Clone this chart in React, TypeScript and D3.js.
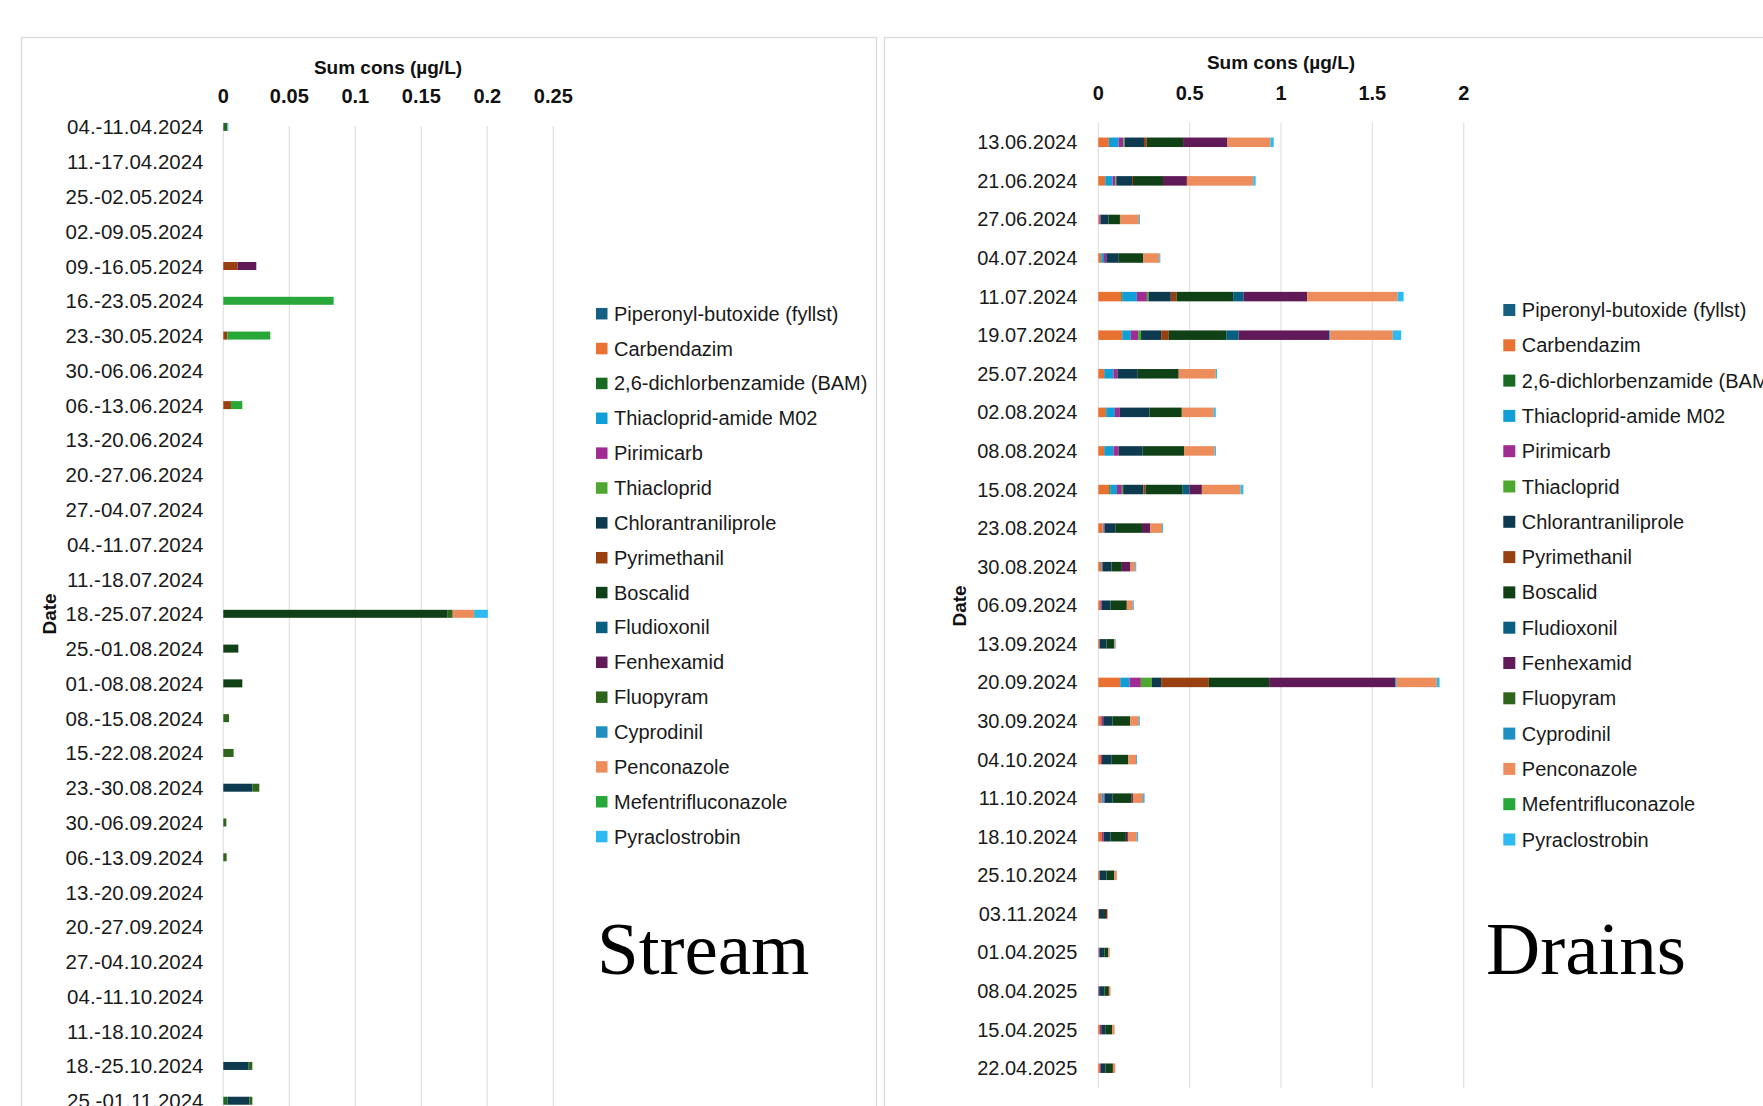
import React from "react";
import * as d3 from "d3";

const COMPOUNDS = [
  "Piperonyl-butoxide (fyllst)",
  "Carbendazim",
  "2,6-dichlorbenzamide (BAM)",
  "Thiacloprid-amide M02",
  "Pirimicarb",
  "Thiacloprid",
  "Chlorantraniliprole",
  "Pyrimethanil",
  "Boscalid",
  "Fludioxonil",
  "Fenhexamid",
  "Fluopyram",
  "Cyprodinil",
  "Penconazole",
  "Mefentrifluconazole",
  "Pyraclostrobin",
];
const COLORS = [
  "#156082", "#E97132", "#196B24", "#0F9ED5", "#A02B93", "#4EA72E",
  "#0D3A4E", "#994011", "#0F4016", "#095F80", "#601A58", "#2F641C",
  "#1F8EC0", "#ED8D5B", "#27A838", "#2DBAF0",
];

// ---------- Stream ----------
const streamDates = [
  "04.-11.04.2024", "11.-17.04.2024", "25.-02.05.2024", "02.-09.05.2024", "09.-16.05.2024",
  "16.-23.05.2024", "23.-30.05.2024", "30.-06.06.2024", "06.-13.06.2024", "13.-20.06.2024",
  "20.-27.06.2024", "27.-04.07.2024", "04.-11.07.2024", "11.-18.07.2024", "18.-25.07.2024",
  "25.-01.08.2024", "01.-08.08.2024", "08.-15.08.2024", "15.-22.08.2024", "23.-30.08.2024",
  "30.-06.09.2024", "06.-13.09.2024", "13.-20.09.2024", "20.-27.09.2024", "27.-04.10.2024",
  "04.-11.10.2024", "11.-18.10.2024", "18.-25.10.2024", "25.-01.11.2024",
];
const streamPiperonyl = [0,0,0,0,0,0,0,0,0,0, 0,0,0,0,0,0,0,0,0,0, 0,0,0,0,0,0,0,0,0];
const streamCarbendazim = [0,0,0,0,0,0,0,0,0,0, 0,0,0,0,0,0,0,0,0,0, 0,0,0,0,0,0,0,0,0];
const streamBAM = [0,0,0,0,0,0,0,0,0,0, 0,0,0,0,0,0,0,0,0,0, 0,0,0,0,0,0,0,0,0.0033];
const streamThiaM02 = [0,0,0,0,0,0,0,0,0,0, 0,0,0,0,0,0,0,0,0,0, 0,0,0,0,0,0,0,0,0];
const streamPirimicarb = [0,0,0,0,0,0,0,0,0,0, 0,0,0,0,0,0,0,0,0,0, 0,0,0,0,0,0,0,0,0];
const streamThiacloprid = [0,0,0,0,0,0,0,0,0,0, 0,0,0,0,0,0,0,0,0,0, 0,0,0,0,0,0,0,0,0];
const streamChlorant = [0,0,0,0,0,0,0,0,0,0, 0,0,0,0,0,0,0,0,0,0.022, 0,0,0,0,0,0,0,0.0192,0.0164];
const streamPyrimethanil = [0,0,0,0,0.0109,0,0.003,0,0.0058,0, 0,0,0,0,0,0,0,0,0,0, 0,0,0,0,0,0,0,0,0];
const streamBoscalid = [0,0,0,0,0,0,0,0,0,0, 0,0,0,0,0.17,0.0114,0.0144,0,0,0, 0,0,0,0,0,0,0,0,0];
const streamFludioxonil = [0,0,0,0,0,0,0,0,0,0, 0,0,0,0,0,0,0,0,0,0, 0,0,0,0,0,0,0,0,0];
const streamFenhexamid = [0,0,0,0,0.0141,0,0,0,0,0, 0,0,0,0,0,0,0,0,0,0, 0,0,0,0,0,0,0,0,0];
const streamFluopyram = [0.003,0,0,0,0,0,0,0,0,0, 0,0,0,0,0.0038,0,0,0.0043,0.0078,0.0053, 0.0023,0.0025,0,0,0,0,0,0.0028,0.0023];
const streamCyprodinil = [0,0,0,0,0,0,0,0,0,0, 0,0,0,0,0,0,0,0,0,0, 0,0,0,0,0,0,0,0,0];
const streamPenconazole = [0,0,0,0,0,0,0,0,0,0, 0,0,0,0,0.0162,0,0,0,0,0, 0,0,0,0,0,0,0,0,0];
const streamMefentri = [0,0,0,0,0,0.0836,0.0326,0,0.0086,0, 0,0,0,0,0,0,0,0,0,0, 0,0,0,0,0,0,0,0,0];
const streamPyraclostrobin = [0.0008,0,0,0,0,0,0,0,0,0, 0,0,0,0,0.0104,0,0,0,0,0, 0,0,0,0,0,0,0,0,0];
const streamTicks = [0, 0.05, 0.1, 0.15, 0.2, 0.25];

// ---------- Drains ----------
const drainDates = [
  "13.06.2024", "21.06.2024", "27.06.2024", "04.07.2024", "11.07.2024",
  "19.07.2024", "25.07.2024", "02.08.2024", "08.08.2024", "15.08.2024",
  "23.08.2024", "30.08.2024", "06.09.2024", "13.09.2024", "20.09.2024",
  "30.09.2024", "04.10.2024", "11.10.2024", "18.10.2024", "25.10.2024",
  "03.11.2024", "01.04.2025", "08.04.2025", "15.04.2025", "22.04.2025",
];
const drainPiperonyl = [0,0,0,0,0, 0,0,0,0,0, 0,0,0,0,0, 0,0,0,0,0, 0,0,0,0,0];
const drainCarbendazim = [0.058,0.038,0.0055,0.016,0.126, 0.131,0.031,0.04,0.031,0.06, 0.024,0.016,0.011,0.007,0.12, 0.016,0.015,0.018,0.02,0.007, 0.004,0.003,0,0.009,0.009];
const drainBAM = [0,0,0,0,0.007, 0,0.003,0.005,0.003,0.007, 0,0,0,0,0, 0,0,0,0,0, 0,0,0,0,0];
const drainThiaM02 = [0.053,0.04,0,0.015,0.078, 0.047,0.049,0.046,0.049,0.035, 0.004,0.004,0,0,0.051, 0,0,0.011,0,0, 0,0,0,0,0];
const drainPirimicarb = [0.026,0.015,0.007,0.013,0.055, 0.04,0.022,0.027,0.029,0.027, 0.007,0.003,0.007,0,0.062, 0.011,0.0055,0.0055,0.009,0, 0,0.003,0.005,0.007,0.005];
const drainThiacloprid = [0.007,0.0055,0,0,0.009, 0.016,0,0,0,0.007, 0,0,0,0,0.06, 0,0,0,0,0, 0,0,0,0,0];
const drainChlorant = [0.106,0.086,0.044,0.068,0.122, 0.11,0.111,0.162,0.131,0.111, 0.058,0.049,0.049,0.038,0.051, 0.051,0.053,0.044,0.038,0.037, 0.027,0.027,0.029,0.022,0.026];
const drainPyrimethanil = [0.015,0.0055,0,0,0.031, 0.042,0,0,0,0.011, 0,0,0,0,0.261, 0,0,0,0,0, 0,0,0,0,0];
const drainBoscalid = [0.199,0.164,0.062,0.133,0.31, 0.314,0.224,0.177,0.226,0.204, 0.146,0.057,0.089,0.042,0.33, 0.097,0.091,0.104,0.084,0.044, 0.011,0.022,0.024,0.038,0.04];
const drainFludioxonil = [0,0,0,0,0.058, 0.068,0,0,0,0.037, 0,0,0,0,0, 0,0,0,0,0, 0,0,0,0,0];
const drainFenhexamid = [0.243,0.131,0,0,0.347, 0.496,0,0,0,0.068, 0.046,0.047,0,0,0.69, 0,0,0.007,0.011,0, 0.0055,0,0,0,0];
const drainFluopyram = [0,0,0,0,0, 0,0,0,0,0, 0,0,0,0,0, 0,0,0,0,0, 0,0,0,0,0];
const drainCyprodinil = [0,0,0,0,0, 0.005,0,0,0,0, 0,0,0,0,0.008, 0,0,0,0,0, 0,0,0,0,0];
const drainPenconazole = [0.235,0.363,0.104,0.089,0.495, 0.343,0.203,0.175,0.168,0.212, 0.064,0.026,0.033,0.007,0.22, 0.047,0.042,0.055,0.049,0.013, 0.005,0.007,0.009,0.013,0.013];
const drainMefentri = [0,0,0,0,0, 0,0,0,0,0, 0,0,0,0,0, 0,0,0,0,0, 0,0,0,0,0];
const drainPyraclostrobin = [0.018,0.013,0.0055,0.0055,0.033, 0.046,0.007,0.011,0.007,0.015, 0.0055,0.0055,0.0055,0.003,0.015, 0.0055,0.0055,0.009,0.007,0, 0,0,0,0,0];
const drainTicks = [0, 0.5, 1, 1.5, 2];

const streamSeries = [
  streamPiperonyl, streamCarbendazim, streamBAM, streamThiaM02, streamPirimicarb, streamThiacloprid,
  streamChlorant, streamPyrimethanil, streamBoscalid, streamFludioxonil, streamFenhexamid, streamFluopyram,
  streamCyprodinil, streamPenconazole, streamMefentri, streamPyraclostrobin,
];
const drainSeries = [
  drainPiperonyl, drainCarbendazim, drainBAM, drainThiaM02, drainPirimicarb, drainThiacloprid,
  drainChlorant, drainPyrimethanil, drainBoscalid, drainFludioxonil, drainFenhexamid, drainFluopyram,
  drainCyprodinil, drainPenconazole, drainMefentri, drainPyraclostrobin,
];

const SANS = "'Liberation Sans', Arial, sans-serif";
const SERIF = "'Liberation Serif', 'Times New Roman', serif";

type PanelProps = {
  dates: string[];
  series: number[][];
  ticks: number[];
  xDomain: [number, number];
  xRange: [number, number];
  yRange: [number, number];
  gridTop: number;
  gridBottom: number;
  padInner: number;
  labelRight: number;
  labelSize: number;
  titleX: number;
  titleY: number;
  tickY: number;
  dateX: number;
  dateY: number;
  legendX: number;
  legendY: number;
  legendStep: number;
  legendSq: number;
  bigText: string;
  bigX: number;
  bigY: number;
};

function Panel(p: PanelProps) {
  const x = d3.scaleLinear().domain(p.xDomain).range(p.xRange);
  const y = d3
    .scaleBand<string>()
    .domain(p.dates)
    .range(p.yRange)
    .paddingInner(p.padInner)
    .paddingOuter(p.padInner / 2);
  const rows = p.dates.map((d, i) => {
    const r: any = { date: d };
    COMPOUNDS.forEach((c, k) => (r[c] = p.series[k][i]));
    return r;
  });
  const stacked = d3.stack<any>().keys(COMPOUNDS)(rows);
  return (
    <g>
      {p.ticks.map((t) => (
        <line key={"g" + t} x1={x(t)} x2={x(t)} y1={p.gridTop} y2={p.gridBottom} stroke="#e3e3e3" strokeWidth={1.3} />
      ))}
      {p.ticks.map((t) => (
        <text key={"t" + t} x={x(t)} y={p.tickY} textAnchor="middle" dominantBaseline="central"
          fontFamily={SANS} fontWeight="bold" fontSize={20} fill="#111">
          {String(t)}
        </text>
      ))}
      <text x={p.titleX} y={p.titleY} textAnchor="middle" dominantBaseline="central"
        fontFamily={SANS} fontWeight="bold" fontSize={19} fill="#111">
        Sum cons (µg/L)
      </text>
      {p.dates.map((d) => (
        <text key={"l" + d} x={p.labelRight} y={(y(d) as number) + y.bandwidth() / 2}
          textAnchor="end" dominantBaseline="central" fontFamily={SANS} fontSize={p.labelSize} fill="#1a1a1a">
          {d}
        </text>
      ))}
      <text transform={`translate(${p.dateX},${p.dateY}) rotate(-90)`} textAnchor="middle"
        dominantBaseline="central" fontFamily={SANS} fontWeight="bold" fontSize={19} fill="#111">
        Date
      </text>
      {stacked.map((s, k) => (
        <g key={"s" + k} fill={COLORS[k]}>
          {s.map((seg, i) =>
            seg[1] - seg[0] > 0 ? (
              <rect key={i} x={x(seg[0])} width={x(seg[1]) - x(seg[0])}
                y={y(p.dates[i]) as number} height={y.bandwidth()} />
            ) : null
          )}
        </g>
      ))}
      {COMPOUNDS.map((c, k) => (
        <g key={"lg" + k} transform={`translate(${p.legendX},${p.legendY + k * p.legendStep})`}>
          <rect x={0} y={-p.legendSq / 2} width={p.legendSq} height={p.legendSq} fill={COLORS[k]} />
          <text x={p.legendSq + 6.5} y={0} dominantBaseline="central" fontFamily={SANS} fontSize={20} fill="#1a1a1a">
            {c}
          </text>
        </g>
      ))}
      <text x={p.bigX} y={p.bigY} fontFamily={SERIF} fontSize={75} fill="#000">
        {p.bigText}
      </text>
    </g>
  );
}

export default function App() {
  return (
    <svg width={1763} height={1106} style={{ position: "absolute", left: 0, top: 0, display: "block", background: "#fff" }}>
      <rect x={0} y={0} width={1763} height={1106} fill="#fff" />
      <rect x={21.5} y={37.5} width={855} height={1200} fill="none" stroke="#d9d9d9" strokeWidth={1.3} />
      <rect x={884.5} y={37.5} width={1000} height={1200} fill="none" stroke="#d9d9d9" strokeWidth={1.3} />
      <Panel
        dates={streamDates} series={streamSeries} ticks={streamTicks}
        xDomain={[0, 0.25]} xRange={[223.3, 553.3]}
        yRange={[109.5, 109.5 + 29 * 34.78]} gridTop={126} gridBottom={1106}
        padInner={0.77} labelRight={203.5} labelSize={20.5}
        titleX={388} titleY={67} tickY={96}
        dateX={49.5} dateY={614}
        legendX={596} legendY={313.7} legendStep={34.86} legendSq={11.5}
        bigText="Stream" bigX={597} bigY={974}
      />
      <Panel
        dates={drainDates} series={drainSeries} ticks={drainTicks}
        xDomain={[0, 2]} xRange={[1098.3, 1463.7]}
        yRange={[123, 123 + 25 * 38.58]} gridTop={122.7} gridBottom={1088}
        padInner={0.754} labelRight={1077.3} labelSize={20}
        titleX={1281} titleY={62.5} tickY={92.5}
        dateX={959} dateY={606}
        legendX={1503.3} legendY={310} legendStep={35.3} legendSq={12}
        bigText="Drains" bigX={1486} bigY={974}
      />
    </svg>
  );
}
